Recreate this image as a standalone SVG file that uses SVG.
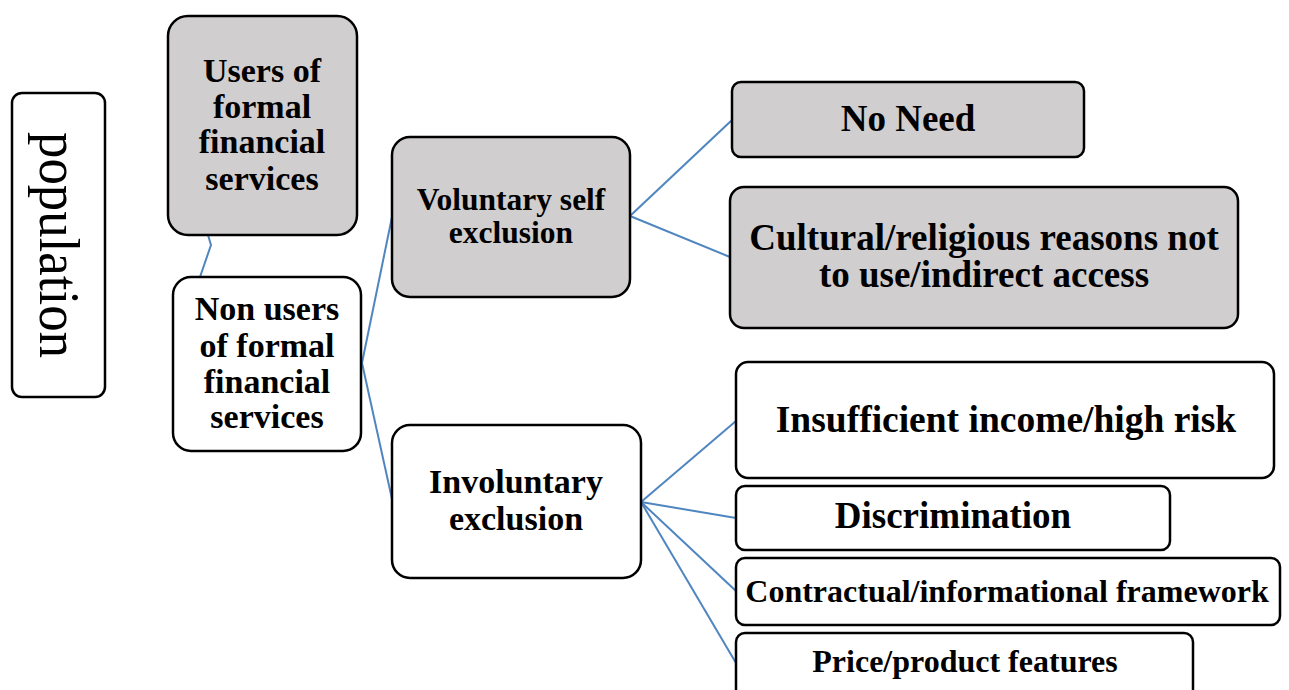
<svg xmlns="http://www.w3.org/2000/svg" width="1289" height="690" viewBox="0 0 1289 690">
<style>
.box{stroke:#000;stroke-width:2.5}
.g{fill:#d0cecf}
.w{fill:#fff}
.t{font-family:"Liberation Serif","Times New Roman",serif;font-weight:bold;text-anchor:middle;fill:#000}
.c{fill:none;stroke:#4f86c0;stroke-width:2}
</style>
<rect width="1289" height="690" fill="#fff"/>
<g id="connectors">
<polyline class="c" points="208,235 211,245 200,277"/>
<line class="c" x1="362" y1="363" x2="392" y2="217"/>
<line class="c" x1="362" y1="363" x2="392" y2="499"/>
<line class="c" x1="630" y1="216" x2="732" y2="120"/>
<line class="c" x1="630" y1="216" x2="730" y2="257"/>
<line class="c" x1="641" y1="502" x2="736" y2="421"/>
<line class="c" x1="641" y1="502" x2="736" y2="518"/>
<line class="c" x1="641" y1="502" x2="736" y2="591"/>
<line class="c" x1="641" y1="502" x2="736" y2="663"/>
</g>
<g id="population">
<rect class="box w" x="12" y="93" width="93" height="304" rx="10"/>
<text transform="translate(40,245) rotate(90)" x="0" y="0" font-family="Liberation Serif, Times New Roman, serif" font-size="58" text-anchor="middle" textLength="226" lengthAdjust="spacingAndGlyphs">population</text>
</g>
<g id="users">
<rect class="box g" x="168" y="16" width="189" height="219" rx="20"/>
<text class="t" font-size="34"><tspan x="262" y="82">Users of</tspan><tspan x="262" y="118">formal</tspan><tspan x="262" y="153">financial</tspan><tspan x="262" y="190">services</tspan></text>
</g>
<g id="nonusers">
<rect class="box w" x="173" y="277" width="188" height="174" rx="18"/>
<text class="t" font-size="34"><tspan x="267" y="320">Non users</tspan><tspan x="267" y="357">of formal</tspan><tspan x="267" y="393">financial</tspan><tspan x="267" y="428">services</tspan></text>
</g>
<g id="voluntary">
<rect class="box g" x="392" y="137" width="238" height="160" rx="18"/>
<text class="t" font-size="31.5"><tspan x="511" y="210">Voluntary self</tspan><tspan x="511" y="243">exclusion</tspan></text>
</g>
<g id="involuntary">
<rect class="box w" x="392" y="425" width="249" height="153" rx="18"/>
<text class="t" font-size="34"><tspan x="516" y="493">Involuntary</tspan><tspan x="516" y="530">exclusion</tspan></text>
</g>
<g id="noneed">
<rect class="box g" x="732" y="82" width="352" height="75" rx="9"/>
<text class="t" font-size="37" x="908" y="131">No Need</text>
</g>
<g id="cultural">
<rect class="box g" x="730" y="187" width="508" height="141" rx="14"/>
<text class="t" font-size="37"><tspan x="984" y="250">Cultural/religious reasons not</tspan><tspan x="984" y="287">to use/indirect access</tspan></text>
</g>
<g id="insufficient">
<rect class="box w" x="736" y="362" width="538" height="116" rx="12"/>
<text class="t" font-size="37.5" x="1006" y="432">Insufficient income/high risk</text>
</g>
<g id="discrimination">
<rect class="box w" x="736" y="486" width="434" height="64" rx="9"/>
<text class="t" font-size="37" x="953" y="528">Discrimination</text>
</g>
<g id="contractual">
<rect class="box w" x="736" y="558" width="544" height="67" rx="9"/>
<text class="t" font-size="32" x="1007" y="602">Contractual/informational framework</text>
</g>
<g id="price">
<rect class="box w" x="736" y="633" width="457" height="70" rx="9"/>
<text class="t" font-size="32" x="965" y="672">Price/product features</text>
</g>
</svg>
